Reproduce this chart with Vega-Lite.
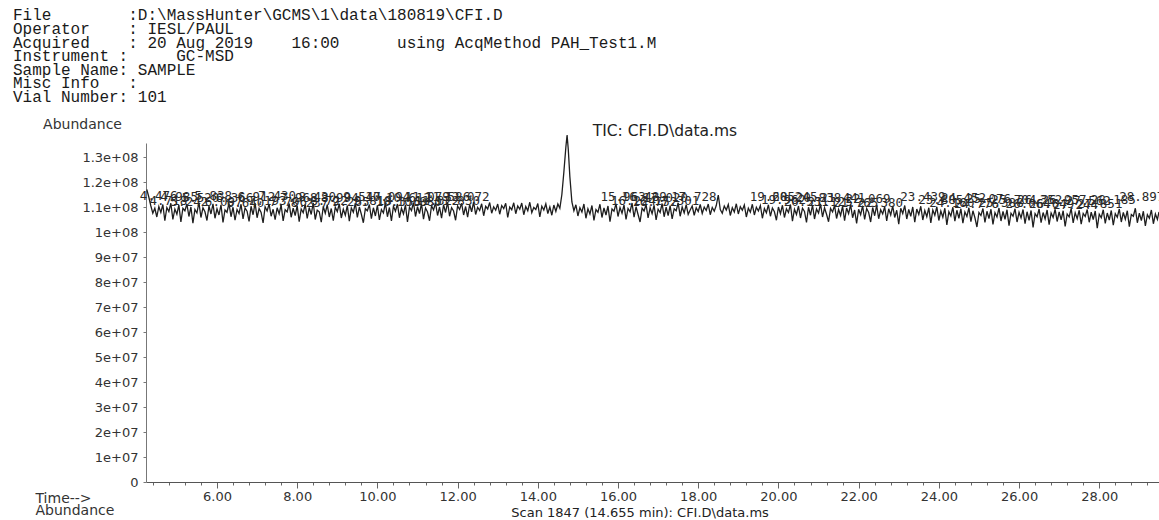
{
  "$schema": "https://vega.github.io/schema/vega-lite/v6.json",
  "width": 1013,
  "height": 339,
  "autosize": {"type": "none"},
  "padding": {"left": 146, "top": 143, "right": 0, "bottom": 38},
  "background": "white",
  "title": {
    "text": [
      "File\u00a0\u00a0\u00a0\u00a0\u00a0\u00a0\u00a0\u00a0:D:\\MassHunter\\GCMS\\1\\data\\180819\\CFI.D",
      "Operator\u00a0\u00a0\u00a0\u00a0: IESL/PAUL",
      "Acquired\u00a0\u00a0\u00a0\u00a0: 20 Aug 2019\u00a0\u00a0\u00a0\u00a016:00\u00a0\u00a0\u00a0\u00a0\u00a0\u00a0using AcqMethod PAH_Test1.M",
      "Instrument :\u00a0\u00a0\u00a0\u00a0\u00a0GC-MSD",
      "Sample Name: SAMPLE",
      "Misc Info\u00a0\u00a0\u00a0:",
      "Vial Number: 101"
    ],
    "anchor": "start",
    "frame": "group",
    "dx": -133,
    "offset": 12,
    "font": "Liberation Mono",
    "fontSize": 16,
    "fontWeight": "normal",
    "color": "#1a1a1a",
    "lineHeight": 13.6
  },
  "datasets": {
    "trace": [
      {"t":4.25,"a":1.170e8},{"t":4.30,"a":1.140e8},{"t":4.35,"a":1.105e8},{"t":4.40,"a":1.075e8},{"t":4.45,"a":1.095e8},
      {"t":4.50,"a":1.060e8},{"t":4.55,"a":1.102e8},{"t":4.60,"a":1.078e8},{"t":4.65,"a":1.110e8},{"t":4.70,"a":1.045e8},
      {"t":4.75,"a":1.098e8},{"t":4.80,"a":1.082e8},{"t":4.85,"a":1.115e8},{"t":4.90,"a":1.050e8},{"t":4.95,"a":1.092e8},
      {"t":5.00,"a":1.071e8},{"t":5.05,"a":1.108e8},{"t":5.10,"a":1.040e8},{"t":5.15,"a":1.095e8},{"t":5.20,"a":1.085e8},
      {"t":5.25,"a":1.112e8},{"t":5.30,"a":1.062e8},{"t":5.35,"a":1.100e8},{"t":5.40,"a":1.035e8},{"t":5.45,"a":1.090e8},
      {"t":5.50,"a":1.076e8},{"t":5.55,"a":1.118e8},{"t":5.60,"a":1.058e8},{"t":5.65,"a":1.097e8},{"t":5.70,"a":1.081e8},
      {"t":5.75,"a":1.046e8},{"t":5.80,"a":1.104e8},{"t":5.85,"a":1.072e8},{"t":5.90,"a":1.113e8},{"t":5.95,"a":1.055e8},
      {"t":6.00,"a":1.093e8},{"t":6.05,"a":1.068e8},{"t":6.10,"a":1.109e8},{"t":6.15,"a":1.038e8},{"t":6.20,"a":1.088e8},
      {"t":6.25,"a":1.079e8},{"t":6.30,"a":1.115e8},{"t":6.35,"a":1.061e8},{"t":6.40,"a":1.099e8},{"t":6.45,"a":1.047e8},
      {"t":6.50,"a":1.090e8},{"t":6.55,"a":1.074e8},{"t":6.60,"a":1.111e8},{"t":6.65,"a":1.052e8},{"t":6.70,"a":1.096e8},
      {"t":6.75,"a":1.083e8},{"t":6.80,"a":1.042e8},{"t":6.85,"a":1.103e8},{"t":6.90,"a":1.069e8},{"t":6.95,"a":1.116e8},
      {"t":7.00,"a":1.057e8},{"t":7.05,"a":1.094e8},{"t":7.10,"a":1.078e8},{"t":7.15,"a":1.036e8},{"t":7.20,"a":1.101e8},
      {"t":7.25,"a":1.084e8},{"t":7.30,"a":1.112e8},{"t":7.35,"a":1.063e8},{"t":7.40,"a":1.091e8},{"t":7.45,"a":1.049e8},
      {"t":7.50,"a":1.097e8},{"t":7.55,"a":1.073e8},{"t":7.60,"a":1.108e8},{"t":7.65,"a":1.044e8},{"t":7.70,"a":1.089e8},
      {"t":7.75,"a":1.080e8},{"t":7.80,"a":1.114e8},{"t":7.85,"a":1.059e8},{"t":7.90,"a":1.095e8},{"t":7.95,"a":1.066e8},
      {"t":8.00,"a":1.105e8},{"t":8.05,"a":1.041e8},{"t":8.10,"a":1.092e8},{"t":8.15,"a":1.077e8},{"t":8.20,"a":1.110e8},
      {"t":8.25,"a":1.054e8},{"t":8.30,"a":1.098e8},{"t":8.35,"a":1.070e8},{"t":8.40,"a":1.117e8},{"t":8.45,"a":1.050e8},
      {"t":8.50,"a":1.087e8},{"t":8.55,"a":1.081e8},{"t":8.60,"a":1.039e8},{"t":8.65,"a":1.102e8},{"t":8.70,"a":1.075e8},
      {"t":8.75,"a":1.109e8},{"t":8.80,"a":1.060e8},{"t":8.85,"a":1.094e8},{"t":8.90,"a":1.045e8},{"t":8.95,"a":1.099e8},
      {"t":9.00,"a":1.082e8},{"t":9.05,"a":1.113e8},{"t":9.10,"a":1.056e8},{"t":9.15,"a":1.091e8},{"t":9.20,"a":1.067e8},
      {"t":9.25,"a":1.106e8},{"t":9.30,"a":1.043e8},{"t":9.35,"a":1.096e8},{"t":9.40,"a":1.079e8},{"t":9.45,"a":1.115e8},
      {"t":9.50,"a":1.058e8},{"t":9.55,"a":1.100e8},{"t":9.60,"a":1.071e8},{"t":9.65,"a":1.037e8},{"t":9.70,"a":1.093e8},
      {"t":9.75,"a":1.085e8},{"t":9.80,"a":1.110e8},{"t":9.85,"a":1.053e8},{"t":9.90,"a":1.097e8},{"t":9.95,"a":1.064e8},
      {"t":10.00,"a":1.107e8},{"t":10.05,"a":1.048e8},{"t":10.10,"a":1.090e8},{"t":10.15,"a":1.076e8},{"t":10.20,"a":1.116e8},
      {"t":10.25,"a":1.061e8},{"t":10.30,"a":1.098e8},{"t":10.35,"a":1.044e8},{"t":10.40,"a":1.103e8},{"t":10.45,"a":1.083e8},
      {"t":10.50,"a":1.112e8},{"t":10.55,"a":1.057e8},{"t":10.60,"a":1.095e8},{"t":10.65,"a":1.072e8},{"t":10.70,"a":1.108e8},
      {"t":10.75,"a":1.040e8},{"t":10.80,"a":1.099e8},{"t":10.85,"a":1.086e8},{"t":10.90,"a":1.118e8},{"t":10.95,"a":1.062e8},
      {"t":11.00,"a":1.101e8},{"t":11.05,"a":1.074e8},{"t":11.10,"a":1.114e8},{"t":11.15,"a":1.051e8},{"t":11.20,"a":1.096e8},
      {"t":11.25,"a":1.080e8},{"t":11.30,"a":1.045e8},{"t":11.35,"a":1.105e8},{"t":11.40,"a":1.088e8},{"t":11.45,"a":1.117e8},
      {"t":11.50,"a":1.066e8},{"t":11.55,"a":1.100e8},{"t":11.60,"a":1.055e8},{"t":11.65,"a":1.109e8},{"t":11.70,"a":1.078e8},
      {"t":11.75,"a":1.119e8},{"t":11.80,"a":1.063e8},{"t":11.85,"a":1.097e8},{"t":11.90,"a":1.084e8},{"t":11.95,"a":1.047e8},
      {"t":12.00,"a":1.104e8},{"t":12.05,"a":1.090e8},{"t":12.10,"a":1.115e8},{"t":12.15,"a":1.068e8},{"t":12.20,"a":1.102e8},
      {"t":12.25,"a":1.059e8},{"t":12.30,"a":1.110e8},{"t":12.35,"a":1.081e8},{"t":12.40,"a":1.120e8},{"t":12.45,"a":1.070e8},
      {"t":12.50,"a":1.099e8},{"t":12.55,"a":1.086e8},{"t":12.60,"a":1.113e8},{"t":12.65,"a":1.065e8},{"t":12.70,"a":1.103e8},
      {"t":12.75,"a":1.092e8},{"t":12.80,"a":1.118e8},{"t":12.85,"a":1.075e8},{"t":12.90,"a":1.101e8},{"t":12.95,"a":1.087e8},
      {"t":13.00,"a":1.112e8},{"t":13.05,"a":1.071e8},{"t":13.10,"a":1.106e8},{"t":13.15,"a":1.094e8},{"t":13.20,"a":1.115e8},
      {"t":13.25,"a":1.058e8},{"t":13.30,"a":1.100e8},{"t":13.35,"a":1.089e8},{"t":13.40,"a":1.117e8},{"t":13.45,"a":1.073e8},
      {"t":13.50,"a":1.104e8},{"t":13.55,"a":1.091e8},{"t":13.60,"a":1.116e8},{"t":13.65,"a":1.069e8},{"t":13.70,"a":1.102e8},
      {"t":13.75,"a":1.085e8},{"t":13.80,"a":1.119e8},{"t":13.85,"a":1.077e8},{"t":13.90,"a":1.098e8},{"t":13.95,"a":1.090e8},
      {"t":14.00,"a":1.114e8},{"t":14.05,"a":1.060e8},{"t":14.10,"a":1.103e8},{"t":14.15,"a":1.088e8},{"t":14.20,"a":1.113e8},
      {"t":14.25,"a":1.074e8},{"t":14.30,"a":1.100e8},{"t":14.35,"a":1.067e8},{"t":14.40,"a":1.108e8},{"t":14.45,"a":1.082e8},
      {"t":14.50,"a":1.112e8},{"t":14.55,"a":1.095e8},{"t":14.60,"a":1.150e8},{"t":14.65,"a":1.240e8},{"t":14.70,"a":1.340e8},
      {"t":14.73,"a":1.388e8},{"t":14.76,"a":1.330e8},{"t":14.80,"a":1.220e8},{"t":14.85,"a":1.120e8},{"t":14.90,"a":1.085e8},
      {"t":14.95,"a":1.109e8},{"t":15.00,"a":1.064e8},{"t":15.05,"a":1.097e8},{"t":15.10,"a":1.080e8},{"t":15.15,"a":1.112e8},
      {"t":15.20,"a":1.055e8},{"t":15.25,"a":1.093e8},{"t":15.30,"a":1.072e8},{"t":15.35,"a":1.106e8},{"t":15.40,"a":1.046e8},
      {"t":15.45,"a":1.090e8},{"t":15.50,"a":1.079e8},{"t":15.55,"a":1.111e8},{"t":15.60,"a":1.058e8},{"t":15.65,"a":1.096e8},
      {"t":15.70,"a":1.068e8},{"t":15.75,"a":1.104e8},{"t":15.80,"a":1.041e8},{"t":15.85,"a":1.092e8},{"t":15.90,"a":1.083e8},
      {"t":15.95,"a":1.113e8},{"t":16.00,"a":1.062e8},{"t":16.05,"a":1.098e8},{"t":16.10,"a":1.075e8},{"t":16.15,"a":1.108e8},
      {"t":16.20,"a":1.050e8},{"t":16.25,"a":1.094e8},{"t":16.30,"a":1.081e8},{"t":16.35,"a":1.116e8},{"t":16.40,"a":1.059e8},
      {"t":16.45,"a":1.101e8},{"t":16.50,"a":1.070e8},{"t":16.55,"a":1.040e8},{"t":16.60,"a":1.095e8},{"t":16.65,"a":1.084e8},
      {"t":16.70,"a":1.110e8},{"t":16.75,"a":1.056e8},{"t":16.80,"a":1.097e8},{"t":16.85,"a":1.073e8},{"t":16.90,"a":1.107e8},
      {"t":16.95,"a":1.048e8},{"t":17.00,"a":1.091e8},{"t":17.05,"a":1.078e8},{"t":17.10,"a":1.114e8},{"t":17.15,"a":1.061e8},
      {"t":17.20,"a":1.099e8},{"t":17.25,"a":1.066e8},{"t":17.30,"a":1.105e8},{"t":17.35,"a":1.052e8},{"t":17.40,"a":1.093e8},
      {"t":17.45,"a":1.085e8},{"t":17.50,"a":1.117e8},{"t":17.55,"a":1.063e8},{"t":17.60,"a":1.100e8},{"t":17.65,"a":1.076e8},
      {"t":17.70,"a":1.109e8},{"t":17.75,"a":1.070e8},{"t":17.80,"a":1.088e8},{"t":17.85,"a":1.104e8},{"t":17.90,"a":1.067e8},
      {"t":17.95,"a":1.097e8},{"t":18.00,"a":1.082e8},{"t":18.05,"a":1.110e8},{"t":18.10,"a":1.074e8},{"t":18.15,"a":1.100e8},
      {"t":18.20,"a":1.086e8},{"t":18.25,"a":1.112e8},{"t":18.30,"a":1.069e8},{"t":18.35,"a":1.098e8},{"t":18.40,"a":1.083e8},
      {"t":18.45,"a":1.106e8},{"t":18.50,"a":1.148e8},{"t":18.55,"a":1.090e8},{"t":18.60,"a":1.075e8},{"t":18.65,"a":1.104e8},
      {"t":18.70,"a":1.088e8},{"t":18.75,"a":1.110e8},{"t":18.80,"a":1.066e8},{"t":18.85,"a":1.097e8},{"t":18.90,"a":1.080e8},
      {"t":18.95,"a":1.113e8},{"t":19.00,"a":1.072e8},{"t":19.05,"a":1.101e8},{"t":19.10,"a":1.087e8},{"t":19.15,"a":1.108e8},
      {"t":19.20,"a":1.060e8},{"t":19.25,"a":1.095e8},{"t":19.30,"a":1.079e8},{"t":19.35,"a":1.111e8},{"t":19.40,"a":1.068e8},
      {"t":19.45,"a":1.099e8},{"t":19.50,"a":1.084e8},{"t":19.55,"a":1.106e8},{"t":19.60,"a":1.055e8},{"t":19.65,"a":1.094e8},
      {"t":19.70,"a":1.077e8},{"t":19.75,"a":1.109e8},{"t":19.80,"a":1.063e8},{"t":19.85,"a":1.096e8},{"t":19.90,"a":1.081e8},
      {"t":19.95,"a":1.047e8},{"t":20.00,"a":1.100e8},{"t":20.05,"a":1.073e8},{"t":20.10,"a":1.107e8},{"t":20.15,"a":1.058e8},
      {"t":20.20,"a":1.093e8},{"t":20.25,"a":1.078e8},{"t":20.30,"a":1.110e8},{"t":20.35,"a":1.043e8},{"t":20.40,"a":1.091e8},
      {"t":20.45,"a":1.070e8},{"t":20.50,"a":1.104e8},{"t":20.55,"a":1.056e8},{"t":20.60,"a":1.095e8},{"t":20.65,"a":1.082e8},
      {"t":20.70,"a":1.038e8},{"t":20.75,"a":1.099e8},{"t":20.80,"a":1.067e8},{"t":20.85,"a":1.108e8},{"t":20.90,"a":1.052e8},
      {"t":20.95,"a":1.092e8},{"t":21.00,"a":1.076e8},{"t":21.05,"a":1.112e8},{"t":21.10,"a":1.060e8},{"t":21.15,"a":1.097e8},
      {"t":21.20,"a":1.071e8},{"t":21.25,"a":1.041e8},{"t":21.30,"a":1.094e8},{"t":21.35,"a":1.080e8},{"t":21.40,"a":1.106e8},
      {"t":21.45,"a":1.054e8},{"t":21.50,"a":1.090e8},{"t":21.55,"a":1.066e8},{"t":21.60,"a":1.103e8},{"t":21.65,"a":1.045e8},
      {"t":21.70,"a":1.096e8},{"t":21.75,"a":1.073e8},{"t":21.80,"a":1.109e8},{"t":21.85,"a":1.057e8},{"t":21.90,"a":1.088e8},
      {"t":21.95,"a":1.034e8},{"t":22.00,"a":1.091e8},{"t":22.05,"a":1.069e8},{"t":22.10,"a":1.105e8},{"t":22.15,"a":1.050e8},
      {"t":22.20,"a":1.094e8},{"t":22.25,"a":1.078e8},{"t":22.30,"a":1.040e8},{"t":22.35,"a":1.098e8},{"t":22.40,"a":1.065e8},
      {"t":22.45,"a":1.107e8},{"t":22.50,"a":1.053e8},{"t":22.55,"a":1.089e8},{"t":22.60,"a":1.072e8},{"t":22.65,"a":1.101e8},
      {"t":22.70,"a":1.044e8},{"t":22.75,"a":1.093e8},{"t":22.80,"a":1.068e8},{"t":22.85,"a":1.104e8},{"t":22.90,"a":1.058e8},
      {"t":22.95,"a":1.087e8},{"t":23.00,"a":1.031e8},{"t":23.05,"a":1.095e8},{"t":23.10,"a":1.074e8},{"t":23.15,"a":1.106e8},
      {"t":23.20,"a":1.052e8},{"t":23.25,"a":1.090e8},{"t":23.30,"a":1.063e8},{"t":23.35,"a":1.100e8},{"t":23.40,"a":1.039e8},
      {"t":23.45,"a":1.092e8},{"t":23.50,"a":1.070e8},{"t":23.55,"a":1.103e8},{"t":23.60,"a":1.048e8},{"t":23.65,"a":1.086e8},
      {"t":23.70,"a":1.061e8},{"t":23.75,"a":1.097e8},{"t":23.80,"a":1.036e8},{"t":23.85,"a":1.088e8},{"t":23.90,"a":1.067e8},
      {"t":23.95,"a":1.101e8},{"t":24.00,"a":1.046e8},{"t":24.05,"a":1.084e8},{"t":24.10,"a":1.059e8},{"t":24.15,"a":1.095e8},
      {"t":24.20,"a":1.028e8},{"t":24.25,"a":1.081e8},{"t":24.30,"a":1.064e8},{"t":24.35,"a":1.099e8},{"t":24.40,"a":1.043e8},
      {"t":24.45,"a":1.087e8},{"t":24.50,"a":1.055e8},{"t":24.55,"a":1.093e8},{"t":24.60,"a":1.035e8},{"t":24.65,"a":1.080e8},
      {"t":24.70,"a":1.062e8},{"t":24.75,"a":1.097e8},{"t":24.80,"a":1.041e8},{"t":24.85,"a":1.085e8},{"t":24.90,"a":1.057e8},
      {"t":24.95,"a":1.020e8},{"t":25.00,"a":1.078e8},{"t":25.05,"a":1.066e8},{"t":25.10,"a":1.094e8},{"t":25.15,"a":1.038e8},
      {"t":25.20,"a":1.083e8},{"t":25.25,"a":1.054e8},{"t":25.30,"a":1.091e8},{"t":25.35,"a":1.030e8},{"t":25.40,"a":1.077e8},
      {"t":25.45,"a":1.060e8},{"t":25.50,"a":1.096e8},{"t":25.55,"a":1.044e8},{"t":25.60,"a":1.082e8},{"t":25.65,"a":1.051e8},
      {"t":25.70,"a":1.089e8},{"t":25.75,"a":1.025e8},{"t":25.80,"a":1.075e8},{"t":25.85,"a":1.063e8},{"t":25.90,"a":1.093e8},
      {"t":25.95,"a":1.040e8},{"t":26.00,"a":1.079e8},{"t":26.05,"a":1.056e8},{"t":26.10,"a":1.090e8},{"t":26.15,"a":1.033e8},
      {"t":26.20,"a":1.081e8},{"t":26.25,"a":1.047e8},{"t":26.30,"a":1.086e8},{"t":26.35,"a":1.018e8},{"t":26.40,"a":1.074e8},
      {"t":26.45,"a":1.061e8},{"t":26.50,"a":1.092e8},{"t":26.55,"a":1.037e8},{"t":26.60,"a":1.078e8},{"t":26.65,"a":1.052e8},
      {"t":26.70,"a":1.088e8},{"t":26.75,"a":1.029e8},{"t":26.80,"a":1.076e8},{"t":26.85,"a":1.058e8},{"t":26.90,"a":1.091e8},
      {"t":26.95,"a":1.042e8},{"t":27.00,"a":1.080e8},{"t":27.05,"a":1.049e8},{"t":27.10,"a":1.085e8},{"t":27.15,"a":1.022e8},
      {"t":27.20,"a":1.072e8},{"t":27.25,"a":1.060e8},{"t":27.30,"a":1.094e8},{"t":27.35,"a":1.036e8},{"t":27.40,"a":1.077e8},
      {"t":27.45,"a":1.053e8},{"t":27.50,"a":1.087e8},{"t":27.55,"a":1.031e8},{"t":27.60,"a":1.074e8},{"t":27.65,"a":1.062e8},
      {"t":27.70,"a":1.090e8},{"t":27.75,"a":1.039e8},{"t":27.80,"a":1.079e8},{"t":27.85,"a":1.050e8},{"t":27.90,"a":1.084e8},
      {"t":27.95,"a":1.015e8},{"t":28.00,"a":1.071e8},{"t":28.05,"a":1.057e8},{"t":28.10,"a":1.089e8},{"t":28.15,"a":1.034e8},
      {"t":28.20,"a":1.076e8},{"t":28.25,"a":1.048e8},{"t":28.30,"a":1.086e8},{"t":28.35,"a":1.027e8},{"t":28.40,"a":1.073e8},
      {"t":28.45,"a":1.059e8},{"t":28.50,"a":1.092e8},{"t":28.55,"a":1.040e8},{"t":28.60,"a":1.078e8},{"t":28.65,"a":1.051e8},
      {"t":28.70,"a":1.085e8},{"t":28.75,"a":1.021e8},{"t":28.80,"a":1.070e8},{"t":28.85,"a":1.063e8},{"t":28.90,"a":1.095e8},
      {"t":28.95,"a":1.037e8},{"t":29.00,"a":1.075e8},{"t":29.05,"a":1.046e8},{"t":29.10,"a":1.083e8},{"t":29.15,"a":1.024e8},
      {"t":29.20,"a":1.069e8},{"t":29.25,"a":1.055e8},{"t":29.30,"a":1.088e8},{"t":29.35,"a":1.033e8},{"t":29.40,"a":1.072e8},
      {"t":29.45,"a":1.050e8},{"t":29.49,"a":1.080e8}
    ],
    "peaks": [
      {"t":4.476,"a":1.145e8,"label":"4.476"},{"t":4.718,"a":1.125e8,"label":"4.718"},{"t":4.985,"a":1.140e8,"label":"4.985"},
      {"t":5.242,"a":1.120e8,"label":"5.242"},{"t":5.520,"a":1.135e8,"label":"5.520"},{"t":5.838,"a":1.143e8,"label":"5.838"},
      {"t":6.097,"a":1.122e8,"label":"6.097"},{"t":6.366,"a":1.138e8,"label":"6.366"},{"t":6.640,"a":1.118e8,"label":"6.640"},
      {"t":6.912,"a":1.140e8,"label":"6.912"},{"t":7.193,"a":1.125e8,"label":"7.193"},{"t":7.430,"a":1.143e8,"label":"7.430"},
      {"t":7.706,"a":1.120e8,"label":"7.706"},{"t":7.968,"a":1.136e8,"label":"7.968"},{"t":8.237,"a":1.118e8,"label":"8.237"},
      {"t":8.430,"a":1.142e8,"label":"8.430"},{"t":8.722,"a":1.124e8,"label":"8.722"},{"t":8.994,"a":1.138e8,"label":"8.994"},
      {"t":9.265,"a":1.120e8,"label":"9.265"},{"t":9.547,"a":1.140e8,"label":"9.547"},{"t":9.818,"a":1.126e8,"label":"9.818"},
      {"t":10.094,"a":1.142e8,"label":"10.094"},{"t":10.356,"a":1.120e8,"label":"10.356"},{"t":10.612,"a":1.137e8,"label":"10.612"},
      {"t":10.880,"a":1.122e8,"label":"10.880"},{"t":11.079,"a":1.142e8,"label":"11.079"},{"t":11.322,"a":1.126e8,"label":"11.322"},
      {"t":11.586,"a":1.140e8,"label":"11.586"},{"t":11.830,"a":1.124e8,"label":"11.830"},{"t":12.072,"a":1.140e8,"label":"12.072"},
      {"t":15.963,"a":1.140e8,"label":"15.963"},{"t":16.224,"a":1.125e8,"label":"16.224"},{"t":16.489,"a":1.140e8,"label":"16.489"},
      {"t":16.752,"a":1.122e8,"label":"16.752"},{"t":17.020,"a":1.138e8,"label":"17.020"},{"t":17.301,"a":1.124e8,"label":"17.301"},
      {"t":17.728,"a":1.142e8,"label":"17.728"},
      {"t":19.685,"a":1.140e8,"label":"19.685"},{"t":19.962,"a":1.128e8,"label":"19.962"},{"t":20.245,"a":1.140e8,"label":"20.245"},
      {"t":20.531,"a":1.122e8,"label":"20.531"},{"t":20.838,"a":1.138e8,"label":"20.838"},{"t":21.125,"a":1.120e8,"label":"21.125"},
      {"t":21.441,"a":1.135e8,"label":"21.441"},{"t":21.765,"a":1.118e8,"label":"21.765"},{"t":22.069,"a":1.132e8,"label":"22.069"},
      {"t":22.380,"a":1.115e8,"label":"22.380"},
      {"t":23.439,"a":1.140e8,"label":"23.439"},{"t":23.885,"a":1.130e8,"label":"23.885"},{"t":24.160,"a":1.118e8,"label":"24.160"},
      {"t":24.452,"a":1.135e8,"label":"24.452"},{"t":24.776,"a":1.114e8,"label":"24.776"},{"t":25.076,"a":1.132e8,"label":"25.076"},
      {"t":25.388,"a":1.116e8,"label":"25.388"},{"t":25.704,"a":1.130e8,"label":"25.704"},{"t":26.064,"a":1.112e8,"label":"26.064"},
      {"t":26.352,"a":1.130e8,"label":"26.352"},{"t":26.649,"a":1.114e8,"label":"26.649"},{"t":26.957,"a":1.128e8,"label":"26.957"},
      {"t":27.244,"a":1.110e8,"label":"27.244"},{"t":27.562,"a":1.126e8,"label":"27.562"},{"t":27.851,"a":1.112e8,"label":"27.851"},
      {"t":28.185,"a":1.128e8,"label":"28.185"},{"t":28.897,"a":1.140e8,"label":"28.897"}
    ],
    "tic": [
      {"t":17.17,"a":1.404e8,"label":"TIC: CFI.D\\data.ms"}
    ],
    "scan": [
      {"t":16.55,"a":-1.24e7,"label":"Scan 1847 (14.655 min): CFI.D\\data.ms"}
    ]
  },
  "encoding": {
    "x": {
      "field": "t",
      "type": "quantitative",
      "scale": {"domain": [4.23, 29.49], "nice": false, "zero": false},
      "axis": {
        "values": [4.4,4.8,5.2,5.6,6,6.4,6.8,7.2,7.6,8,8.4,8.8,9.2,9.6,10,10.4,10.8,11.2,11.6,12,12.4,12.8,13.2,13.6,14,14.4,14.8,15.2,15.6,16,16.4,16.8,17.2,17.6,18,18.4,18.8,19.2,19.6,20,20.4,20.8,21.2,21.6,22,22.4,22.8,23.2,23.6,24,24.4,24.8,25.2,25.6,26,26.4,26.8,27.2,27.6,28,28.4,28.8,29.2],
        "labelExpr": "datum.value % 2 === 0 ? format(datum.value, '.2f') : ''",
        "labelOverlap": false,
        "labelFlush": false,
        "grid": false,
        "domainColor": "#555",
        "tickColor": "#666",
        "tickSize": {"condition": {"test": "datum.value % 2 === 0", "value": 6}, "value": 3},
        "labelPadding": 2,
        "labelFont": "DejaVu Sans",
        "labelFontSize": 13,
        "labelColor": "#333",
        "title": ["Time-->", "Abundance"],
        "titleFont": "DejaVu Sans",
        "titleFontSize": 14,
        "titleFontWeight": "normal",
        "titleColor": "#333",
        "titleAlign": "left",
        "titleBaseline": "top",
        "titleLineHeight": 12,
        "titleX": -111,
        "titleY": 9
      }
    },
    "y": {
      "field": "a",
      "type": "quantitative",
      "scale": {"domain": [0, 135600000], "nice": false, "zero": true},
      "axis": {
        "values": [0,10000000,20000000,30000000,40000000,50000000,60000000,70000000,80000000,90000000,100000000,110000000,120000000,130000000],
        "labelExpr": "datum.value === 0 ? '0' : replace(format(datum.value, '.2~e'), 'e+', 'e+0')",
        "grid": false,
        "domainColor": "#777",
        "tickColor": "#777",
        "tickSize": 3,
        "labelPadding": 5,
        "labelFont": "DejaVu Sans",
        "labelFontSize": 13,
        "labelColor": "#333",
        "title": "Abundance",
        "titleFont": "DejaVu Sans",
        "titleFontSize": 14,
        "titleFontWeight": "normal",
        "titleColor": "#333",
        "titleAngle": 0,
        "titleAlign": "center",
        "titleBaseline": "middle",
        "titleX": -64,
        "titleY": -19
      }
    }
  },
  "layer": [
    {
      "data": {"name": "trace"},
      "mark": {"type": "line", "color": "#1e1e1e", "strokeWidth": 1.3}
    },
    {
      "data": {"name": "peaks"},
      "mark": {"type": "text", "font": "DejaVu Sans Mono", "fontSize": 12.5, "color": "#2a2a2a", "align": "left", "baseline": "middle", "dx": -16},
      "encoding": {"text": {"field": "label"}}
    },
    {
      "data": {"name": "tic"},
      "mark": {"type": "text", "font": "DejaVu Sans", "fontSize": 15.5, "color": "#222", "align": "center", "baseline": "middle"},
      "encoding": {"text": {"field": "label"}}
    },
    {
      "data": {"name": "scan"},
      "mark": {"type": "text", "font": "DejaVu Sans", "fontSize": 13, "color": "#222", "align": "center", "baseline": "middle"},
      "encoding": {"text": {"field": "label"}}
    }
  ],
  "config": {"view": {"stroke": null}}
}
